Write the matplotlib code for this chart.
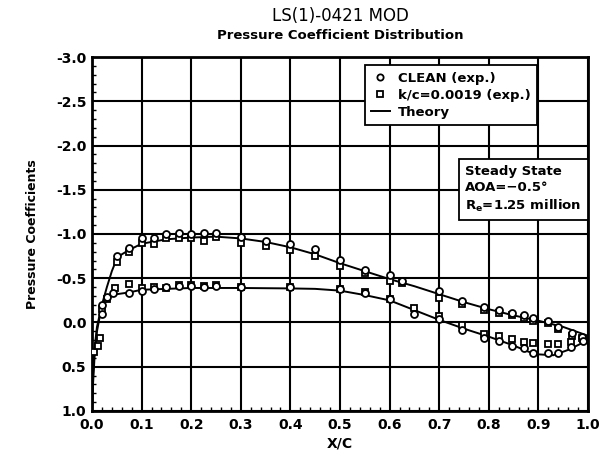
import matplotlib
matplotlib.use("Agg")
import matplotlib.pyplot as plt
from matplotlib.ticker import MultipleLocator
from matplotlib.lines import Line2D

plt.rcParams['font.family'] = ['DejaVu Sans']
plt.rcParams['font.weight'] = 'bold'
plt.rcParams['axes.labelweight'] = 'bold'

# theory, upper and lower surface
th_up_x = [0.0, 0.002, 0.005, 0.01, 0.02, 0.03, 0.04, 0.05, 0.06, 0.075, 0.1, 0.15, 0.2, 0.25, 0.3,
           0.35, 0.4, 0.45, 0.5, 0.55, 0.6, 0.65, 0.7, 0.75, 0.8, 0.85, 0.9, 0.95, 1.0]
th_up_cp = [1.0, 0.6, 0.3, 0.05, -0.2, -0.4, -0.58, -0.72, -0.77, -0.82, -0.89, -0.94, -0.96, -0.97, -0.95,
            -0.91, -0.85, -0.77, -0.67, -0.58, -0.49, -0.41, -0.32, -0.23, -0.15, -0.08, -0.02, 0.05, 0.15]
th_lo_x = [0.0, 0.002, 0.005, 0.01, 0.015, 0.02, 0.03, 0.04, 0.05, 0.075, 0.1, 0.15, 0.2, 0.3, 0.4,
           0.45, 0.5, 0.55, 0.6, 0.65, 0.7, 0.75, 0.8, 0.85, 0.88, 0.9, 0.93, 0.96, 1.0]
th_lo_cp = [1.0, 0.7, 0.4, 0.1, -0.05, -0.15, -0.26, -0.3, -0.32, -0.34, -0.37, -0.38, -0.39, -0.39, -0.385,
            -0.38, -0.36, -0.31, -0.25, -0.14, -0.03, 0.07, 0.16, 0.26, 0.33, 0.36, 0.37, 0.31, 0.2]

# CLEAN (exp.)
cl_up_x = [0.02, 0.03, 0.05, 0.075, 0.1, 0.125, 0.15, 0.175, 0.2, 0.225, 0.25, 0.3, 0.35, 0.4, 0.45,
           0.5, 0.55, 0.6, 0.625, 0.7, 0.745, 0.79, 0.82, 0.846, 0.87, 0.89, 0.92, 0.94, 0.967, 0.987]
cl_up_cp = [-0.20, -0.29, -0.75, -0.84, -0.95, -0.95, -1.0, -1.01, -1.0, -1.01, -1.01, -0.97, -0.92, -0.89, -0.83,
            -0.71, -0.59, -0.54, -0.47, -0.36, -0.24, -0.17, -0.14, -0.11, -0.08, -0.05, -0.02, 0.05, 0.12, 0.16]
cl_lo_x = [0.02, 0.043, 0.075, 0.1, 0.125, 0.15, 0.175, 0.2, 0.225, 0.25, 0.3, 0.4, 0.5, 0.55,
           0.6, 0.65, 0.7, 0.745, 0.79, 0.82, 0.846, 0.87, 0.89, 0.92, 0.94, 0.965, 0.99]
cl_lo_cp = [-0.10, -0.33, -0.33, -0.36, -0.38, -0.40, -0.41, -0.41, -0.40, -0.41, -0.40, -0.40, -0.38, -0.33,
            -0.26, -0.10, -0.04, 0.09, 0.18, 0.21, 0.26, 0.29, 0.35, 0.35, 0.34, 0.28, 0.21]

# k/c=0.0019 (exp.)
kc_up_x = [0.02, 0.03, 0.05, 0.075, 0.1, 0.125, 0.15, 0.175, 0.2, 0.225, 0.25, 0.3, 0.35, 0.4, 0.45,
           0.5, 0.55, 0.6, 0.625, 0.7, 0.745, 0.79, 0.82, 0.846, 0.87, 0.89, 0.92, 0.94, 0.967, 0.987]
kc_up_cp = [-0.15, -0.27, -0.68, -0.80, -0.90, -0.89, -0.96, -0.96, -0.96, -0.92, -0.97, -0.90, -0.86, -0.82, -0.75,
            -0.64, -0.56, -0.47, -0.45, -0.28, -0.21, -0.14, -0.11, -0.08, -0.05, -0.02, 0.01, 0.07, 0.15, 0.18]
kc_lo_x = [0.005, 0.012, 0.017, 0.046, 0.075, 0.1, 0.125, 0.15, 0.175, 0.2, 0.225, 0.25, 0.3, 0.4, 0.5,
           0.55, 0.6, 0.65, 0.7, 0.745, 0.79, 0.82, 0.846, 0.87, 0.89, 0.92, 0.94, 0.965, 0.99]
kc_lo_cp = [0.33, 0.26, 0.18, -0.39, -0.44, -0.39, -0.40, -0.39, -0.42, -0.42, -0.41, -0.42, -0.40, -0.40, -0.38,
            -0.34, -0.27, -0.16, -0.07, 0.03, 0.13, 0.15, 0.19, 0.22, 0.23, 0.24, 0.24, 0.22, 0.19]

fig = plt.figure(figsize=(5.99, 4.59), dpi=100)
ax = fig.add_axes([0.1536, 0.1046, 0.8280, 0.7712])

mk = dict(linestyle='none', markersize=5, markeredgewidth=1.3, markerfacecolor='white',
          markeredgecolor='black', color='black')
ax.plot(th_up_x, th_up_cp, color='black', lw=1.4, zorder=3)
ax.plot(th_lo_x, th_lo_cp, color='black', lw=1.4, zorder=3)
ax.plot(kc_up_x, kc_up_cp, marker='s', zorder=4, **mk)
ax.plot(kc_lo_x, kc_lo_cp, marker='s', zorder=4, **mk)
ax.plot(cl_up_x, cl_up_cp, marker='o', zorder=5, **mk)
ax.plot(cl_lo_x, cl_lo_cp, marker='o', zorder=5, **mk)

ax.set_xlim(0.0, 1.0)
ax.set_ylim(1.0, -3.0)
ax.xaxis.set_major_locator(MultipleLocator(0.1))
ax.xaxis.set_minor_locator(MultipleLocator(0.02))
ax.yaxis.set_major_locator(MultipleLocator(0.5))
ax.yaxis.set_minor_locator(MultipleLocator(0.1))
ax.grid(True, which='major', color='black', lw=1.5)
ax.set_axisbelow(True)
ax.tick_params(which='both', direction='in', top=False, right=False, labelsize=10)
ax.tick_params(which='major', length=0)
ax.tick_params(axis='x', which='major', pad=5)
ax.tick_params(axis='y', which='major', pad=4)
ax.tick_params(which='minor', length=3, width=1)
ax.set_xticklabels(['%.1f' % v for v in ax.get_xticks()])
ax.set_yticklabels(['%.1f' % v for v in ax.get_yticks()])
ax.get_yticklabels()[-1].set_va('bottom')
for s in ax.spines.values():
    s.set_linewidth(2)

ax.set_xlabel('X/C', fontsize=10, labelpad=3)
ax.set_ylabel('Pressure Coefficients', fontsize=9, labelpad=12)

fig.text(0.568, 0.965, 'LS(1)-0421 MOD', ha='center', va='center', fontsize=12, fontweight='normal')
fig.text(0.568, 0.922, 'Pressure Coefficient Distribution', ha='center', va='center', fontsize=9.5)

lmk = dict(mk, markersize=4.5)
handles = [Line2D([], [], marker='o', **lmk), Line2D([], [], marker='s', **lmk),
           Line2D([], [], color='black', lw=1.4)]
leg = ax.legend(handles, ['CLEAN (exp.)', 'k/c=0.0019 (exp.)', 'Theory'],
                loc='upper right', bbox_to_anchor=(0.897, 0.977), borderaxespad=0,
                fancybox=False, framealpha=1, edgecolor='black', fontsize=9.5,
                handlelength=1.4, handletextpad=0.6, labelspacing=0.3, borderpad=0.5)
leg.get_frame().set_linewidth(1.3)

ax.text(0.987, 0.695, 'Steady State\nAOA=\u22120.5\u00b0\nR$_\\mathregular{e}$=1.25 million',
        transform=ax.transAxes, ha='right', va='top', multialignment='left',
        fontsize=9.5, linespacing=1.3,
        bbox=dict(boxstyle='square,pad=0.5', facecolor='white', edgecolor='black', lw=1.3))

fig.savefig('out.png', dpi=100)
